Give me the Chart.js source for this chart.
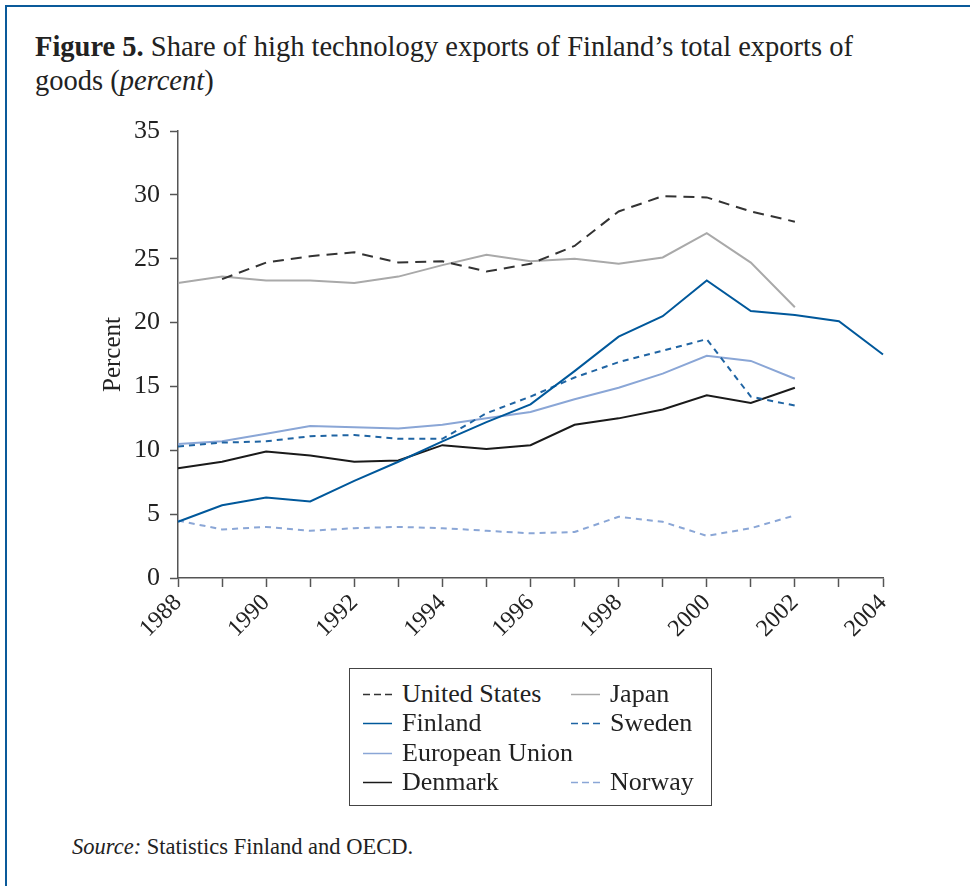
<!DOCTYPE html>
<html>
<head>
<meta charset="utf-8">
<script src="https://cdn.jsdelivr.net/npm/chart.js@4.4.1/dist/chart.umd.min.js"></script>
<style>
    html, body {
        margin: 0;
        padding: 0;
        background: #fff;
    }
    body {
        width: 970px;
        height: 886px;
        position: relative;
        overflow: hidden;
        font-family: "Liberation Serif", serif;
        color: #222;
    }
    .frame {
        position: absolute;
        left: 5px;
        top: 5px;
        right: -10px;
        bottom: -10px;
        border-top: 2px solid #0a5a9a;
        border-left: 2px solid #0a5a9a;
    }
    .title {
        position: absolute;
        left: 35px;
        top: 30px;
        font-size: 28.5px;
        line-height: 34px;
        white-space: nowrap;
    }
    .chart-wrap {
        position: absolute;
        left: 0;
        top: 0;
        width: 970px;
        height: 660px;
    }
    .legend {
        position: absolute;
        left: 349px;
        top: 668px;
        width: 363px;
        height: 138px;
        border: 1.5px solid #444;
        display: grid;
        grid-template-columns: 221px 140px;
        grid-template-rows: repeat(4, 29.5px);
        padding-top: 10px;
        box-sizing: border-box;
        font-size: 26px;
    }
    .legend .item {
        display: flex;
        align-items: center;
        white-space: nowrap;
    }
    .legend .item:nth-child(odd) {
        padding-left: 13px;
    }
    .legend canvas {
        margin-right: 10px;
    }
    .source {
        position: absolute;
        left: 72px;
        top: 834px;
        font-size: 22.5px;
    }
</style>
</head>
<body>
<div class="frame"></div>
<div class="title"><b>Figure 5.</b> Share of high technology exports of Finland’s total exports of<br>goods (<i>percent</i>)</div>
<div class="chart-wrap"><canvas id="exportsChart"></canvas></div>
<div class="legend" id="legend"></div>
<div class="source"><i>Source:</i> Statistics Finland and OECD.</div>

<script>
// Years on the x axis
const years = ['1988', '1989', '1990', '1991', '1992', '1993', '1994', '1995', '1996',
               '1997', '1998', '1999', '2000', '2001', '2002', '2003', '2004'];

// Series values (percent)
const unitedStates = [null, 23.4, 24.7, 25.2, 25.5, 24.7, 24.8, 24.0, 24.6, 26.0, 28.7, 29.9, 29.8, 28.7, 27.9, null, null];
const japan        = [23.1, 23.6, 23.3, 23.3, 23.1, 23.6, 24.5, 25.3, 24.8, 25.0, 24.6, 25.1, 27.0, 24.7, 21.2, null, null];
const finland      = [4.4, 5.7, 6.3, 6.0, 7.6, 9.1, 10.7, 12.2, 13.6, 16.2, 18.9, 20.5, 23.3, 20.9, 20.6, 20.1, 17.5];
const sweden       = [10.3, 10.6, 10.7, 11.1, 11.2, 10.9, 10.9, 12.9, 14.2, 15.7, 16.9, 17.8, 18.7, 14.2, 13.5, null, null];
const europeanUnion = [10.5, 10.7, 11.3, 11.9, 11.8, 11.7, 12.0, 12.5, 13.0, 14.0, 14.9, 16.0, 17.4, 17.0, 15.6, null, null];
const denmark      = [8.6, 9.1, 9.9, 9.6, 9.1, 9.2, 10.4, 10.1, 10.4, 12.0, 12.5, 13.2, 14.3, 13.7, 14.9, null, null];
const norway       = [4.5, 3.8, 4.0, 3.7, 3.9, 4.0, 3.9, 3.7, 3.5, 3.6, 4.8, 4.4, 3.3, 3.9, 4.9, null, null];

const yTicks = [0, 5, 10, 15, 20, 25, 30, 35];

const serif = '"Liberation Serif", serif';

// Series definitions: label, data, colour, dash pattern
const series = [
    { label: 'United States', data: unitedStates, color: '#333333', dash: [11, 7] },
    { label: 'Japan', data: japan, color: '#a9a9a9', dash: [] },
    { label: 'Finland', data: finland, color: '#00589b', dash: [] },
    { label: 'Sweden', data: sweden, color: '#1f64a3', dash: [6, 5] },
    { label: 'European Union', data: europeanUnion, color: '#8aa6d6', dash: [] },
    null, // empty legend slot
    { label: 'Denmark', data: denmark, color: '#1a1a1a', dash: [] },
    { label: 'Norway', data: norway, color: '#8aa6d6', dash: [6, 5] }
];

document.addEventListener('DOMContentLoaded', function() {
    initializeChart();
    buildLegend();
});

function initializeChart() {
    const ctx = document.getElementById('exportsChart');

    new Chart(ctx, {
        type: 'line',
        data: {
            labels: years,
            datasets: series.filter(s => s).map(s => ({
                label: s.label,
                data: s.data,
                borderColor: s.color,
                borderDash: s.dash,
                borderWidth: 2,
                pointRadius: 0,
                tension: 0,
                fill: false,
                spanGaps: false
            }))
        },
        options: {
            responsive: true,
            maintainAspectRatio: false,
            animation: false,
            layout: {
                padding: { left: 98, right: 87, top: 131, bottom: 0 }
            },
            plugins: {
                legend: { display: false },
                tooltip: { enabled: false }
            },
            scales: {
                y: {
                    min: 0,
                    max: 35,
                    afterBuildTicks: function(scale) {
                        scale.ticks = yTicks.map(v => ({ value: v }));
                    },
                    afterFit: function(scale) {
                        scale.width = 80;
                    },
                    title: {
                        display: true,
                        text: 'Percent',
                        color: '#222',
                        font: { family: serif, size: 25 },
                        padding: { top: 0, bottom: 0 }
                    },
                    ticks: {
                        color: '#222',
                        font: { family: serif, size: 26 },
                        padding: 10
                    },
                    grid: {
                        drawOnChartArea: false,
                        drawTicks: true,
                        tickLength: 8,
                        tickWidth: 1.5,
                        tickColor: '#555'
                    },
                    border: {
                        color: '#555',
                        width: 1.5
                    }
                },
                x: {
                    offset: false,
                    afterFit: function(scale) {
                        scale.height = 82;
                    },
                    ticks: {
                        autoSkip: false,
                        minRotation: 45,
                        maxRotation: 45,
                        color: '#222',
                        font: { family: serif, size: 24 },
                        padding: 2,
                        callback: function(value, index) {
                            return index % 2 === 0 ? years[index] : '';
                        }
                    },
                    grid: {
                        drawOnChartArea: false,
                        drawTicks: true,
                        tickLength: 9,
                        tickWidth: 1.5,
                        tickColor: '#555'
                    },
                    border: {
                        color: '#555',
                        width: 1.5
                    }
                }
            }
        }
    });
}

// Build the two-column legend box
function buildLegend() {
    const legend = document.getElementById('legend');
    series.forEach(s => {
        const item = document.createElement('div');
        item.className = 'item';
        if (s) {
            const sample = document.createElement('canvas');
            sample.width = 29;
            sample.height = 12;
            const c = sample.getContext('2d');
            c.strokeStyle = s.color;
            c.lineWidth = 1.5;
            c.setLineDash(s.dash.length ? [7, 4] : []);
            c.beginPath();
            c.moveTo(0, 6.5);
            c.lineTo(29, 6.5);
            c.stroke();
            item.appendChild(sample);
            const text = document.createElement('span');
            text.textContent = s.label;
            item.appendChild(text);
        }
        legend.appendChild(item);
    });
}
</script>
</body>
</html>
